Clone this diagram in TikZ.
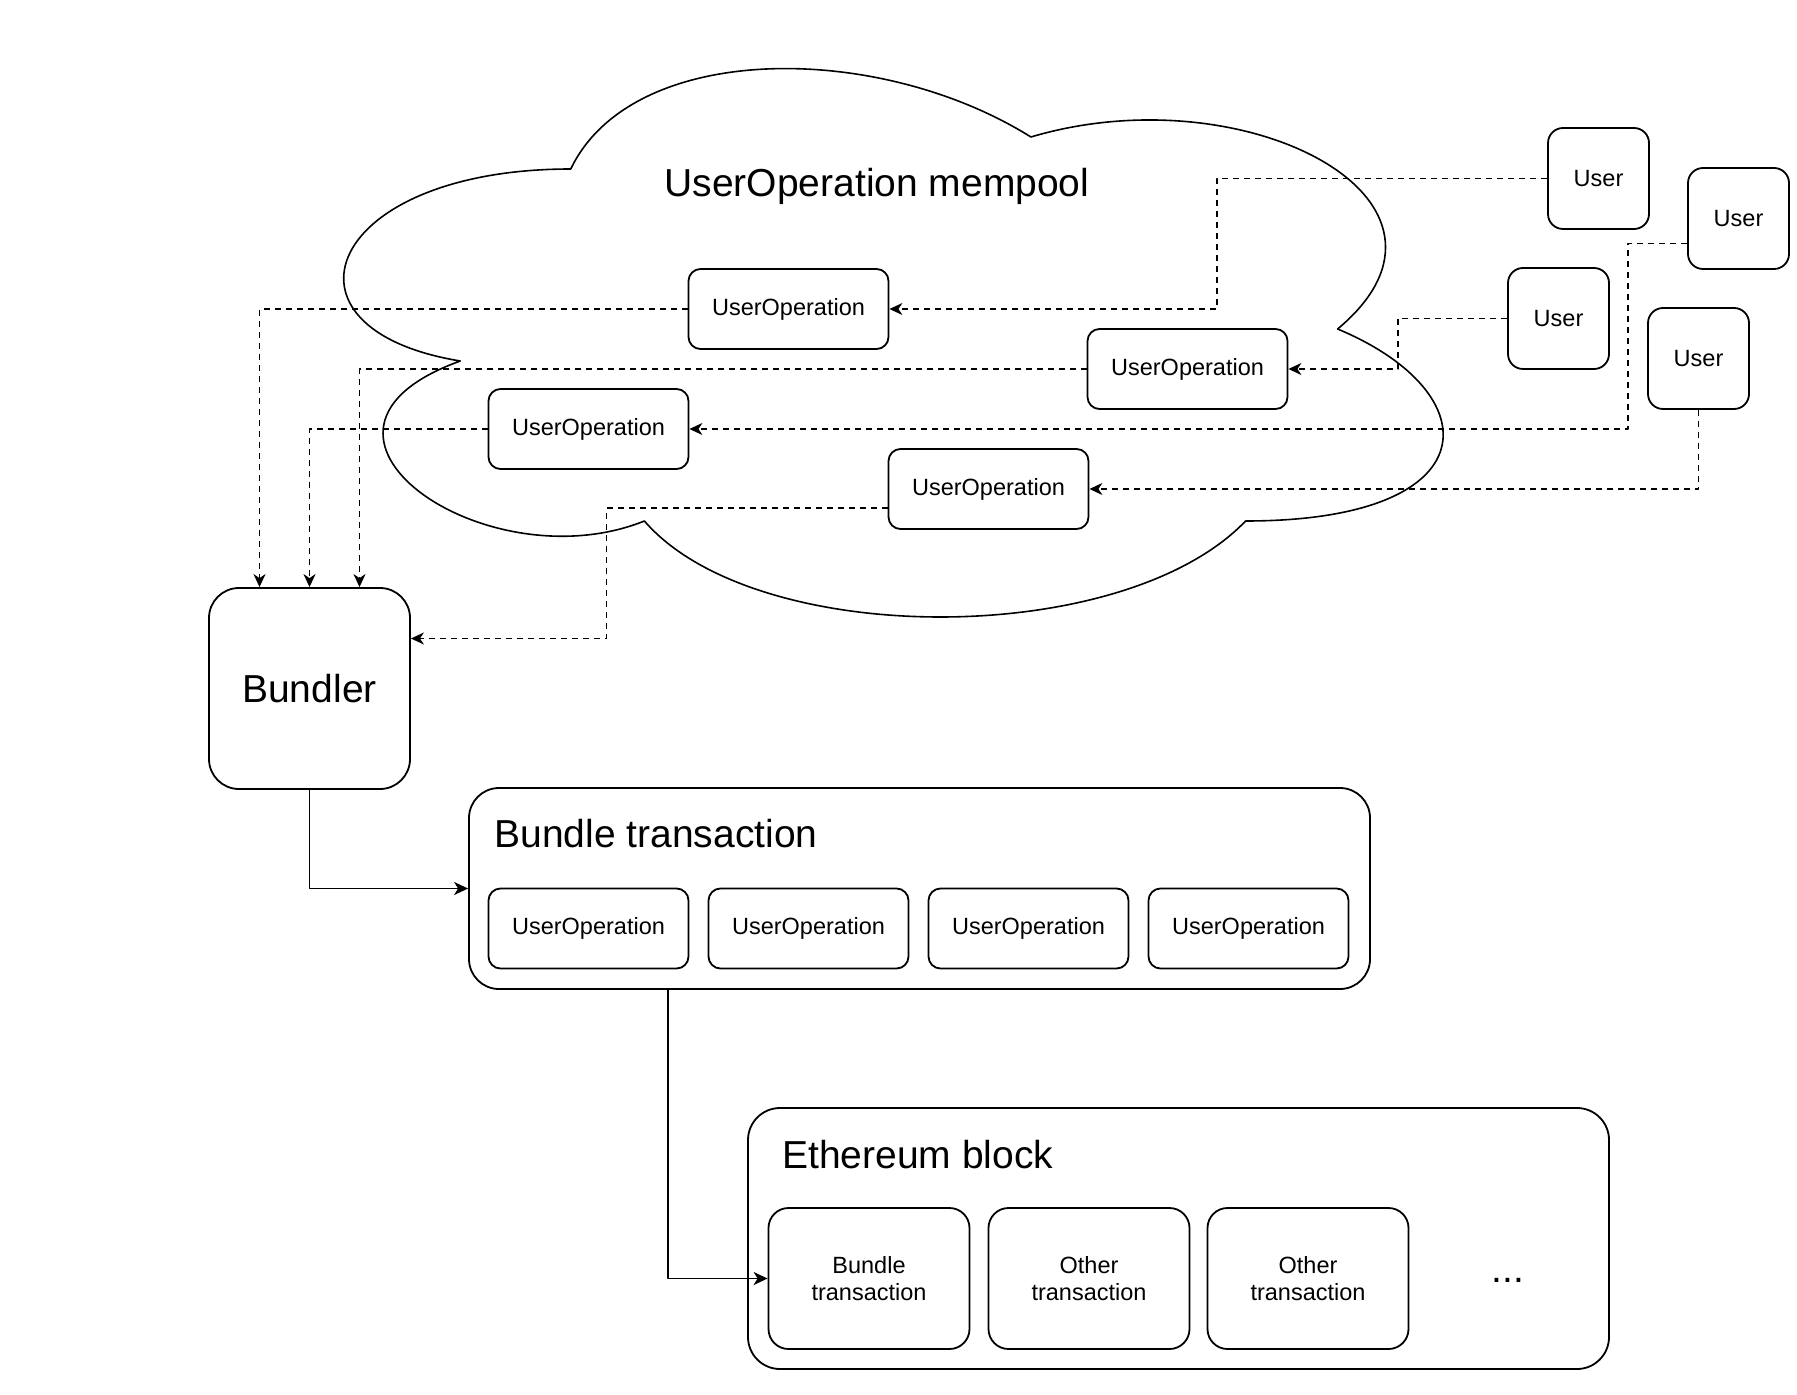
\documentclass[tikz,border=0pt]{standalone}
\usepackage{fontspec}
\setmainfont{Liberation Sans}
\usetikzlibrary{positioning, arrows.meta}

\begin{document}
\begin{tikzpicture}[x=0.5pt, y=-0.5pt, line join=round,
    opbox/.style={draw, line width=0.9pt, rounded corners=6pt, minimum width=100pt, minimum height=40pt, inner sep=0pt, font=\fontsize{11.75}{14}\selectfont},
    userbox/.style={draw, line width=0.9pt, rounded corners=7.5pt, minimum width=50.5pt, minimum height=50.5pt, inner sep=0pt, font=\fontsize{11.75}{14}\selectfont},
    txbox/.style={draw, line width=0.9pt, rounded corners=10pt, minimum width=100.5pt, minimum height=70.5pt, inner sep=0pt, align=center, font=\fontsize{11.75}{13.6}\selectfont},
    group/.style={draw, line width=0.9pt, rounded corners=15pt, inner sep=0pt},
    bigfont/.style={font=\fontsize{19.5}{23}\selectfont},
    feed/.style={dashed, dash pattern=on 3pt off 2.5pt, line width=0.7pt, -{Stealth[length=6.5pt, width=6pt, inset=2pt]}},
    push/.style={line width=0.9pt, -{Stealth[length=7pt, width=6.5pt, inset=2pt]}}]
    \useasboundingbox (0,0) rectangle (1797,1395);
    % Mempool cloud
    \draw [line width=0.8pt] (570.75,169) .. controls (325.35,169) and (264,329) .. (460.3,361)
        .. controls (264,431.4) and (484.9,585) .. (644.4,521)
        .. controls (754.8,649) and (1122.9,649) .. (1245.6,521)
        .. controls (1491,521) and (1491,393) .. (1337.6,329)
        .. controls (1491,201) and (1245.6,73) .. (1030.9,137)
        .. controls (877.5,41) and (632.1,41) .. (570.75,169) -- cycle;
    \node (title) at (877,197) [anchor=base, bigfont] {UserOperation mempool};
    % Operations in the mempool
    \node (uo1) at (788.5,309) [opbox] {UserOperation};
    \node (uo2) at (1187.5,369) [opbox] {UserOperation};
    \node (uo3) at (588.5,429) [opbox] {UserOperation};
    \node (uo4) at (988.5,489) [opbox] {UserOperation};
    % Users
    \node (u1) at (1598.5,178.5) [userbox] {User};
    \node (u2) at (1738.5,218.5) [userbox] {User};
    \node (u3) at (1558.5,318.5) [userbox] {User};
    \node (u4) at (1698.5,358.5) [userbox] {User};
    % Users send operations
    \draw [feed] (u1.west) -- ++(-330,0) |- (uo1.east);
    \draw [feed] (u3.west) -- ++(-109,0) |- (uo2.east);
    \draw [feed] ([yshift=-12.5pt]u2.west) -- ++(-59,0) |- (uo3.east);
    \draw [feed] (u4.south) |- (uo4.east);
    % Bundler
    \node (bundler) at (309.5,688.5) [group, minimum width=100.5pt, minimum height=100.5pt, bigfont] {Bundler};
    \draw [feed] (uo1.west) -| ([xshift=-25pt]bundler.north);
    \draw [feed] (uo3.west) -| (bundler.north);
    \draw [feed] (uo2.west) -| ([xshift=25pt]bundler.north);
    \draw [feed] ([yshift=-9.5pt]uo4.west) -- ++(-281,0) |- ([yshift=25pt]bundler.east);
    % Bundle transaction
    \node (btx) at (919.5,888.5) [group, minimum width=450.5pt, minimum height=100.5pt] {};
    \node (btxlabel) at (494,847) [anchor=base west, bigfont, inner sep=0pt] {Bundle transaction};
    \node (bop1) at (588.5,928.5) [opbox] {UserOperation};
    \node (bop2) at (808.5,928.5) [opbox] {UserOperation};
    \node (bop3) at (1028.5,928.5) [opbox] {UserOperation};
    \node (bop4) at (1248.5,928.5) [opbox] {UserOperation};
    \draw [push] (bundler.south) |- (btx.west);
    % Ethereum block
    \node (eth) at (1178.5,1238.5) [group, rounded corners=16pt, minimum width=430.5pt, minimum height=130.5pt] {};
    \node (ethlabel) at (782,1168) [anchor=base west, bigfont, inner sep=0pt] {Ethereum block};
    \node (etx1) at (869,1278.5) [txbox] {Bundle\\transaction};
    \node (etx2) at (1089,1278.5) [txbox] {Other\\transaction};
    \node (etx3) at (1308,1278.5) [txbox] {Other\\transaction};
    \node (dots) at (1508,1282) [anchor=base, bigfont] {...};
    \draw [push] ([xshift=-125.75pt]btx.south) |- (etx1.west);
\end{tikzpicture}
\end{document}
